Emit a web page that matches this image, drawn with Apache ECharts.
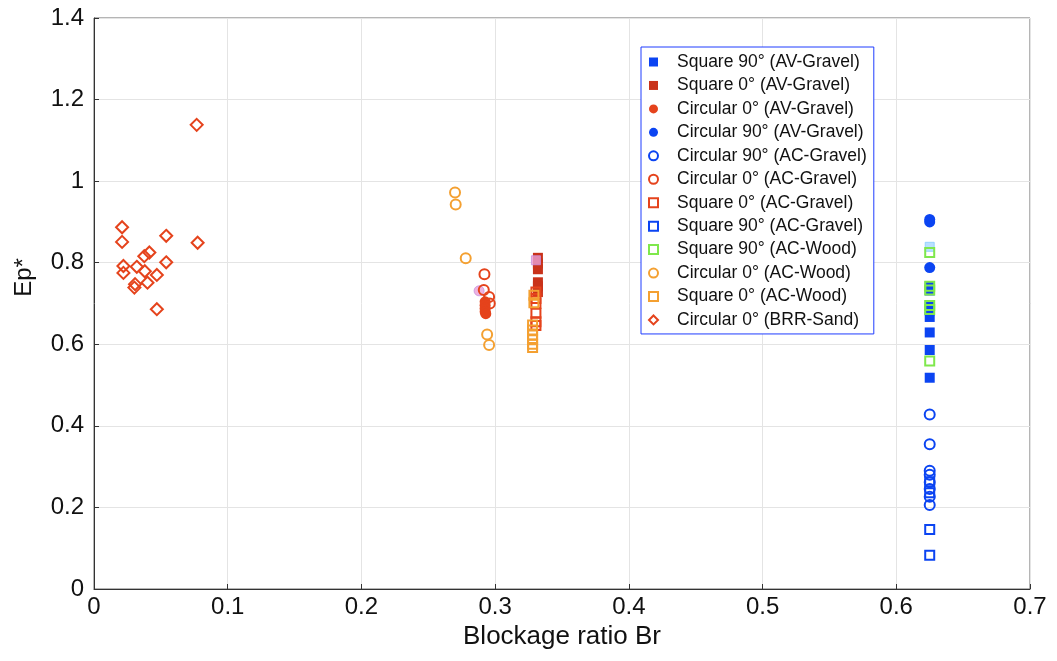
<!DOCTYPE html>
<html>
<head>
<meta charset="utf-8">
<script src="https://cdn.jsdelivr.net/npm/echarts@6/dist/echarts.min.js"></script>
<style>
  html, body { margin: 0; padding: 0; background: #fff; }
  #chart { width: 1057px; height: 661px; }
</style>
</head>
<body>
<div id="chart"></div>
<script>
// Tick values of both axes
const xTicks = [0, 0.1, 0.2, 0.3, 0.4, 0.5, 0.6, 0.7];
const yTicks = [0, 0.2, 0.4, 0.6, 0.8, 1, 1.2, 1.4];

// [Br, Ep*] pairs per configuration
const sq90AVGravel = [[0.625, 0.742], [0.625, 0.732], [0.625, 0.695], [0.625, 0.683], [0.625, 0.667],
  [0.625, 0.629], [0.625, 0.586], [0.625, 0.518]];
const sq0AVGravel = [[0.332, 0.812], [0.332, 0.798], [0.332, 0.784], [0.332, 0.752], [0.332, 0.742],
  [0.332, 0.728]];
const circ0AVGravel = [[0.2925, 0.704], [0.2925, 0.696], [0.2925, 0.688], [0.2925, 0.680], [0.293, 0.675]];
const circ90AVGravel = [[0.625, 0.906], [0.625, 0.900], [0.625, 0.788]];
const circ90ACGravel = [[0.625, 0.428], [0.625, 0.355], [0.625, 0.290], [0.625, 0.280], [0.625, 0.262],
  [0.625, 0.245], [0.625, 0.226], [0.625, 0.206]];
const circ0ACGravel = [[0.292, 0.772], [0.2915, 0.733], [0.2955, 0.716], [0.296, 0.700]];
const sq0ACGravel = [[0.3305, 0.728], [0.3305, 0.712], [0.3305, 0.700], [0.3305, 0.676], [0.3305, 0.655],
  [0.3305, 0.646]];
const sq90ACGravel = [[0.625, 0.263], [0.625, 0.236], [0.625, 0.146], [0.625, 0.083]];
const sq90ACWood = [[0.625, 0.825], [0.625, 0.742], [0.625, 0.733], [0.625, 0.695], [0.625, 0.685],
  [0.625, 0.559]];
const circ0ACWood = [[0.270, 0.972], [0.2705, 0.943], [0.278, 0.811], [0.294, 0.624], [0.2955, 0.598]];
const sq0ACWood = [[0.329, 0.720], [0.329, 0.702], [0.328, 0.647], [0.328, 0.635], [0.328, 0.623],
  [0.328, 0.611], [0.328, 0.600], [0.328, 0.592]];
const circ0BRRSand = [[0.0768, 1.138], [0.021, 0.887], [0.021, 0.851], [0.054, 0.866], [0.0775, 0.849],
  [0.0414, 0.825], [0.0376, 0.816], [0.054, 0.801], [0.022, 0.792], [0.022, 0.775], [0.032, 0.790],
  [0.038, 0.779], [0.047, 0.770], [0.040, 0.751], [0.0307, 0.7475], [0.0302, 0.739], [0.047, 0.686]];
// Additional unlabelled points
const pinkPoints = [[0.288, 0.731]];
const pinkSquares = [[0.3305, 0.806]];
const cyanSquares = [[0.625, 0.839]];

const BLUE = '#0b44f2';
const RED = '#e5431c';
const DARKRED = '#c9321a';
const GREEN = '#7fe84c';
const ORANGE = '#f4a031';

function filled(name, data, symbol, color, size) {
  return { name, type: 'scatter', data, symbol, symbolSize: size,
    itemStyle: { color, borderWidth: 0, opacity: 1 } };
}
function hollow(name, data, symbol, color, size) {
  return { name, type: 'scatter', data, symbol, symbolSize: size,
    itemStyle: { color: 'rgba(255,255,255,0)', borderColor: color, borderWidth: 2, opacity: 1 } };
}

const series = [
  filled('Square 90° (AV-Gravel)', sq90AVGravel, 'rect', BLUE, 10),
  filled('Square 0° (AV-Gravel)', sq0AVGravel, 'rect', DARKRED, 10),
  filled('Circular 0° (AV-Gravel)', circ0AVGravel, 'circle', RED, 11),
  filled('Circular 90° (AV-Gravel)', circ90AVGravel, 'circle', BLUE, 11),
  hollow('Circular 90° (AC-Gravel)', circ90ACGravel, 'circle', BLUE, 10),
  hollow('Circular 0° (AC-Gravel)', circ0ACGravel, 'circle', RED, 10),
  hollow('Square 0° (AC-Gravel)', sq0ACGravel, 'rect', RED, 9),
  hollow('Square 90° (AC-Gravel)', sq90ACGravel, 'rect', BLUE, 9),
  hollow('Square 90° (AC-Wood)', sq90ACWood, 'rect', GREEN, 9),
  hollow('Circular 0° (AC-Wood)', circ0ACWood, 'circle', ORANGE, 10),
  hollow('Square 0° (AC-Wood)', sq0ACWood, 'rect', ORANGE, 9),
  hollow('Circular 0° (BRR-Sand)', circ0BRRSand, 'diamond', RED, 12),
  { name: 'pink-c', type: 'scatter', data: pinkPoints, symbol: 'circle', symbolSize: 10, z: 1,
    itemStyle: { color: '#eaa0d6', borderColor: '#c890e0', borderWidth: 1 } },
  { name: 'pink-s', type: 'scatter', data: pinkSquares, symbol: 'rect', symbolSize: 9,
    itemStyle: { color: '#eaa0d6', borderColor: '#c890e0', borderWidth: 1 } },
  { name: 'cyan-s', type: 'scatter', data: cyanSquares, symbol: 'rect', symbolSize: 9, z: 1,
    itemStyle: { color: '#a8d8ff', borderColor: '#88ccff', borderWidth: 1 } }
];

const legendNames = series.slice(0, 12).map(s => s.name);
const fmt = v => String(+v.toFixed(1));

const chart = echarts.init(document.getElementById('chart'), null, { renderer: 'canvas' });
chart.setOption({
  animation: false,
  backgroundColor: '#fff',
  grid: { left: 94, right: 27, top: 18, bottom: 72, show: true, borderColor: '#6a6a6a', borderWidth: 1 },
  legend: {
    data: legendNames,
    orient: 'vertical',
    left: 641, top: 47,
    padding: [5, 7, 4, 7],
    itemWidth: 9, itemHeight: 9,
    itemGap: 3.45,
    backgroundColor: '#fff',
    borderColor: '#1f3cff', borderWidth: 1, borderRadius: 0,
    selectedMode: false,
    textStyle: { fontFamily: 'Liberation Sans, Arial, sans-serif', fontSize: 17.5, color: '#111',
      lineHeight: 20, padding: [0, 0, 0, 14] }
  },
  xAxis: {
    type: 'value', min: xTicks[0], max: xTicks[xTicks.length - 1], interval: 0.1,
    name: 'Blockage ratio Br', nameLocation: 'middle', nameGap: 35,
    nameTextStyle: { fontFamily: 'Liberation Sans, Arial', fontSize: 26, color: '#111' },
    axisLine: { show: true, lineStyle: { color: '#333', width: 1 } },
    axisTick: { show: true, inside: true, length: 5, lineStyle: { color: '#333' } },
    axisLabel: { formatter: fmt, margin: 6, fontFamily: 'Liberation Sans, Arial', fontSize: 24, color: '#111' },
    splitLine: { show: true, lineStyle: { color: '#e4e4e4', width: 1 } }
  },
  yAxis: {
    type: 'value', min: yTicks[0], max: yTicks[yTicks.length - 1], interval: 0.2,
    name: 'Ep*', nameLocation: 'middle', nameGap: 58, nameRotate: 90,
    nameTextStyle: { fontFamily: 'Liberation Sans, Arial', fontSize: 24, color: '#111',
      padding: [0, 0, 0, 52] },
    axisLine: { show: true, lineStyle: { color: '#333', width: 1 } },
    axisTick: { show: true, inside: true, length: 5, lineStyle: { color: '#333' } },
    axisLabel: { formatter: fmt, margin: 10, fontFamily: 'Liberation Sans, Arial', fontSize: 24, color: '#111' },
    splitLine: { show: true, lineStyle: { color: '#e4e4e4', width: 1 } }
  },
  series
});
</script>
</body>
</html>
